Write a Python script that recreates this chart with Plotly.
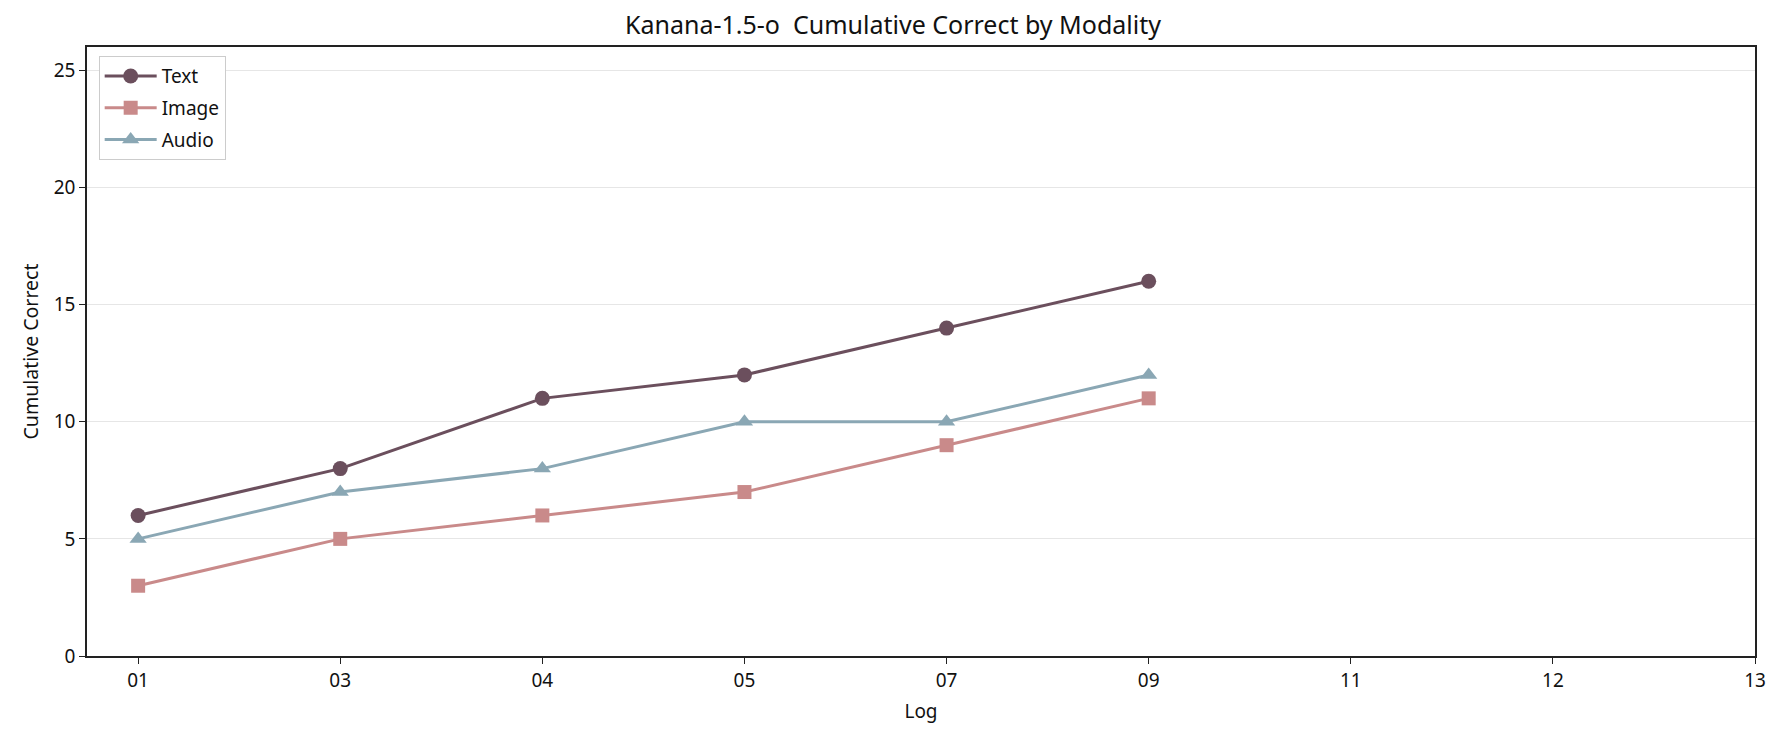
import plotly.graph_objects as go

categories = ["01", "03", "04", "05", "07", "09", "11", "12", "13"]
text_vals = [6, 8, 11, 12, 14, 16]
image_vals = [3, 5, 6, 7, 9, 11]
audio_vals = [5, 7, 8, 10, 10, 12]

FONT = "Noto Sans"
series = [
    ("Text", text_vals, "#6b4f5d", "circle"),
    ("Image", image_vals, "#c98a8a", "square"),
    ("Audio", audio_vals, "#8aa7b4", "triangle-up"),
]

fig = go.Figure()
for name, vals, color, sym in series:
    fig.add_trace(go.Scatter(
        x=categories[:len(vals)], y=vals, name=name, mode="lines+markers",
        legendgroup=name,
        line=dict(color=color, width=3),
        marker=dict(symbol=sym, size=15 if sym != "square" else 14, color=color),
    ))

fig.update_layout(
    width=1786, height=737,
    margin=dict(l=87, r=31, t=47, b=81),
    plot_bgcolor="white", paper_bgcolor="white",
    font=dict(family=FONT, size=19, color="#111"),
    title=dict(text="Kanana-1.5-o  Cumulative Correct by Modality", x=0.5, xanchor="center",
               y=1 - 25 / 737, yanchor="middle", font=dict(size=25)),
    showlegend=True,
    legend=dict(x=0.007, y=0.985, xanchor="left", yanchor="top",
                bordercolor="#cccccc", borderwidth=1, bgcolor="white",
                tracegroupgap=4, itemwidth=52,
                font=dict(size=19)),
    xaxis=dict(type="category", categoryorder="array", categoryarray=categories,
               tickvals=categories, range=[-0.253, 8],
               showline=True, linecolor="#222", linewidth=1.5, mirror=True,
               ticks="outside", ticklen=6, tickcolor="#222", showgrid=False,
               title=dict(text="Log", font=dict(size=19), standoff=13),
               tickfont=dict(size=19)),
    yaxis=dict(range=[0, 26], tickvals=[0, 5, 10, 15, 20, 25],
               showline=True, linecolor="#222", linewidth=1.5, mirror=True,
               ticks="outside", ticklen=6, tickcolor="#222",
               showgrid=True, gridcolor="#e6e6e6", gridwidth=1, zeroline=False,
               title=dict(text="Cumulative Correct", font=dict(size=19.5), standoff=10),
               tickfont=dict(size=19)),
)

fig.write_html("out.html")
